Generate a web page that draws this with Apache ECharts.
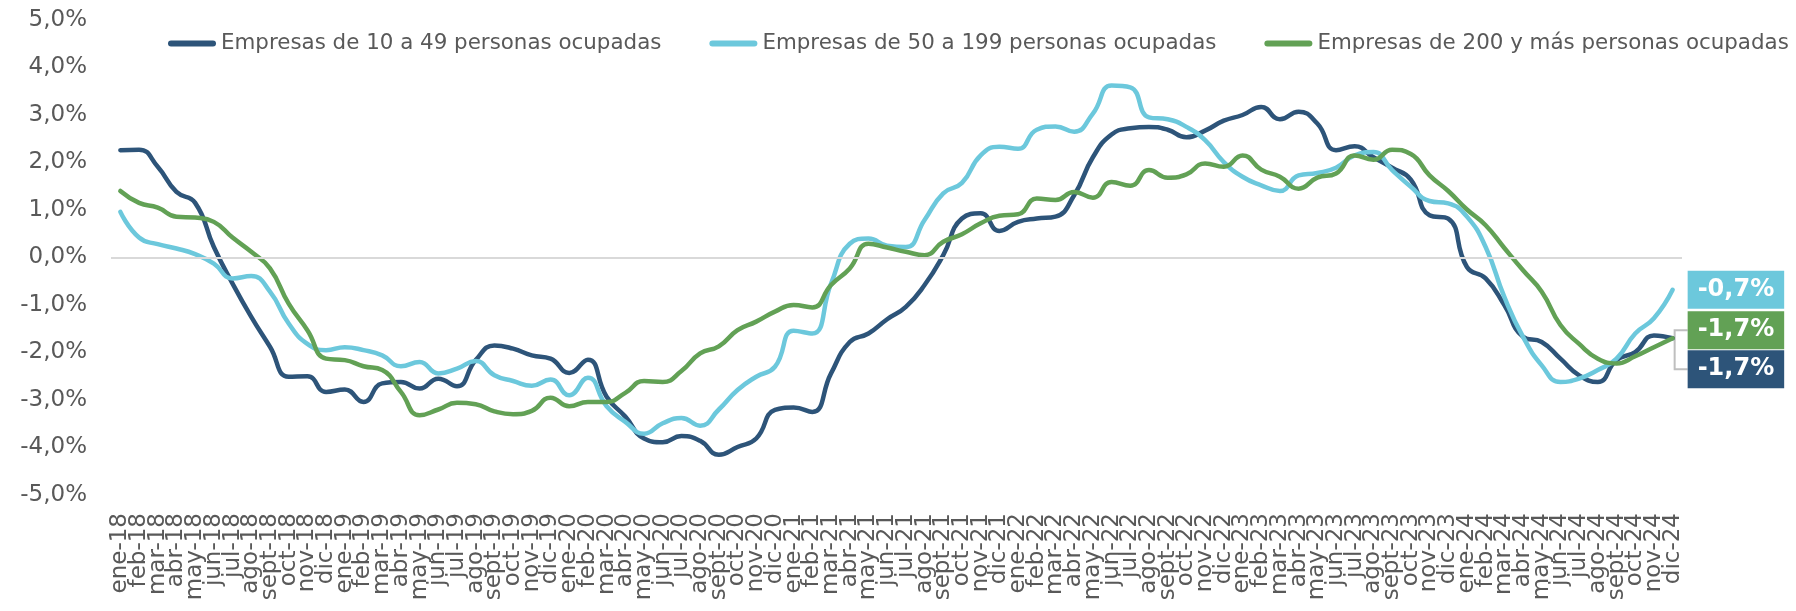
<!DOCTYPE html>
<html>
<head>
<meta charset="utf-8">
<title>Variación del empleo por tamaño de empresa</title>
<script src="https://cdn.jsdelivr.net/npm/echarts@6/dist/echarts.min.js"></script>
<style>
  html, body { margin: 0; padding: 0; background: #fff; }
  #chart { width: 1796px; height: 611px; }
</style>
</head>
<body>
<div id="chart"></div>
<script>
// categorias: ene-18 ... dic-24
const meses = ["ene", "feb", "mar", "abr", "may", "jun", "jul", "ago", "sept", "oct", "nov", "dic"];
const anios = ["18", "19", "20", "21", "22", "23", "24"];
const categorias = [];
anios.forEach(a => meses.forEach(m => categorias.push(m + "-" + a)));

const nombres = [
  "Empresas de 10 a 49 personas ocupadas",
  "Empresas de 50 a 199 personas ocupadas",
  "Empresas de 200 y más personas ocupadas"
];

// variacion interanual (%)
const empresas10a49 = [
  2.26, 2.27, 1.91, 1.38, 1.15, 0.22, -0.55, -1.25, -1.88, -2.51, -2.50, -2.83,
  -2.78, -3.04, -2.65, -2.62, -2.76, -2.55, -2.71, -2.16, -1.85, -1.92, -2.06, -2.13,
  -2.43, -2.15, -2.93, -3.35, -3.81, -3.89, -3.76, -3.86, -4.15, -3.99, -3.81, -3.21,
  -3.16, -3.25, -2.44, -1.78, -1.60, -1.30, -1.04, -0.58, 0.05, 0.82, 0.93, 0.56,
  0.75, 0.82, 0.86, 1.31, 2.11, 2.59, 2.72, 2.75, 2.69, 2.53, 2.67, 2.88,
  3.00, 3.17, 2.91, 3.07, 2.82, 2.26, 2.34, 2.11, 1.89, 1.64, 0.89, 0.82,
  -0.20, -0.44, -1.00, -1.67, -1.78, -2.13, -2.48, -2.62, -2.16, -1.99, -1.64, -1.70
];
const empresas50a199 = [
  0.96, 0.42, 0.28, 0.19, 0.07, -0.13, -0.44, -0.39, -0.72, -1.39, -1.82, -1.95,
  -1.89, -1.95, -2.06, -2.29, -2.20, -2.44, -2.34, -2.18, -2.48, -2.60, -2.70, -2.57,
  -2.90, -2.53, -3.13, -3.46, -3.71, -3.49, -3.38, -3.54, -3.20, -2.79, -2.51, -2.30,
  -1.54, -1.60, -0.55, 0.29, 0.40, 0.25, 0.22, 0.79, 1.35, 1.57, 2.15, 2.33,
  2.29, 2.69, 2.76, 2.65, 3.03, 3.62, 3.58, 2.95, 2.91, 2.75, 2.47, 2.01,
  1.70, 1.52, 1.40, 1.73, 1.78, 1.89, 2.15, 2.22, 1.84, 1.49, 1.19, 1.14,
  0.86, 0.22, -0.83, -1.67, -2.27, -2.62, -2.55, -2.37, -2.13, -1.60, -1.28, -0.68
];
const empresas200ymas = [
  1.40, 1.15, 1.05, 0.86, 0.84, 0.75, 0.42, 0.12, -0.23, -0.97, -1.53, -2.13,
  -2.16, -2.29, -2.37, -2.83, -3.32, -3.20, -3.06, -3.09, -3.24, -3.30, -3.23, -2.95,
  -3.13, -3.04, -3.04, -2.85, -2.60, -2.62, -2.39, -2.02, -1.87, -1.53, -1.35, -1.14,
  -1.00, -1.05, -0.58, -0.23, 0.29, 0.21, 0.12, 0.05, 0.33, 0.49, 0.72, 0.88,
  0.91, 1.24, 1.21, 1.38, 1.26, 1.59, 1.51, 1.84, 1.68, 1.75, 1.98, 1.91,
  2.15, 1.85, 1.70, 1.45, 1.68, 1.77, 2.15, 2.06, 2.27, 2.18, 1.73, 1.40,
  1.01, 0.68, 0.20, -0.27, -0.72, -1.42, -1.82, -2.13, -2.23, -2.08, -1.89, -1.70
];

const colores = ["#2d5479", "#6cc8dc", "#62a155"];
// desplazamiento vertical de cada etiqueta final
const desplazamientos = [31, 0, -8];

const fmt = v => v.toFixed(1).replace(".", ",") + "%";
const FONT = "DejaVu Sans";

const chart = echarts.init(document.getElementById("chart"));

function serie(i, data) {
  return {
    name: nombres[i],
    type: "line",
    data: data,
    smooth: 0.5,
    symbol: "none",
    color: colores[i],
    lineStyle: { width: 4.5, color: colores[i], cap: "round" },
    endLabel: {
      show: true,
      formatter: p => fmt(p.value),
      distance: 15,
      offset: [0, desplazamientos[i]],
      align: "left",
      verticalAlign: "middle",
      color: "#fff",
      fontFamily: FONT,
      fontWeight: "bold",
      fontSize: 24,
      lineHeight: 30,
      padding: [4, 10, 4, 10],
      backgroundColor: colores[i]
    }
  };
}

const series = [
  serie(0, empresas10a49),
  serie(1, empresas50a199),
  serie(2, empresas200ymas)
];
// linea del cero
series[0].markLine = {
  silent: true,
  symbol: "none",
  label: { show: false },
  lineStyle: { color: "#d9d9d9", width: 2, type: "solid" },
  data: [{ yAxis: 0 }]
};

chart.setOption({
  animation: false,
  grid: { left: 111, right: 114, top: 20, bottom: 116, outerBoundsMode: "none" },
  legend: {
    top: 28,
    left: 163,
    itemWidth: 48,
    itemHeight: 6,
    itemGap: 48,
    icon: "path://M3 0H45A3 3 0 0 1 45 6H3A3 3 0 0 1 3 0Z",
    textStyle: { fontFamily: FONT, fontSize: 21.4, color: "#595959" },
    data: nombres
  },
  xAxis: {
    type: "category",
    data: categorias,
    boundaryGap: true,
    axisLine: { show: false },
    axisTick: { show: false },
    axisLabel: {
      interval: 0,
      rotate: 90,
      margin: 18,
      fontFamily: FONT,
      fontSize: 23,
      color: "#595959"
    }
  },
  yAxis: {
    type: "value",
    min: -5,
    max: 5,
    interval: 1,
    splitLine: { show: false },
    axisLine: { show: false },
    axisTick: { show: false },
    axisLabel: {
      margin: 24,
      align: "right",
      fontFamily: FONT,
      fontSize: 23,
      color: "#595959",
      formatter: v => fmt(v)
    }
  },
  series: series
});

// conectores grises hacia las dos etiquetas de -1,7%
const ult = categorias.length - 1;
const pOscura = chart.convertToPixel({ seriesIndex: 0 }, [ult, empresas10a49[ult]]);
const pVerde = chart.convertToPixel({ seriesIndex: 2 }, [ult, empresas200ymas[ult]]);
const x0 = pVerde[0] + 2;
const x1 = pVerde[0] + 15;
const yV = pVerde[1] + desplazamientos[2];
const yO = pOscura[1] + desplazamientos[0];
chart.setOption({
  graphic: [{
    type: "polyline",
    z: 1,
    silent: true,
    shape: { points: [[x1, yV], [x0, yV], [x0, yO], [x1, yO]] },
    style: { stroke: "#bfbfbf", lineWidth: 2, fill: null }
  }]
});
</script>
</body>
</html>
